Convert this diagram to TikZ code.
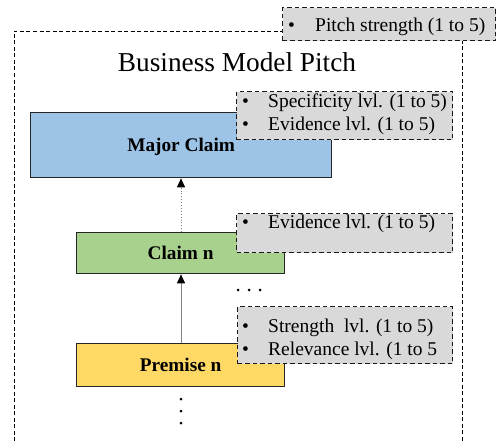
\documentclass[tikz,border=0pt]{standalone}
\usepackage{fontspec}
\setmainfont{Liberation Serif}
\usetikzlibrary{positioning,arrows.meta}

\definecolor{mcblue}{HTML}{9DC3E6}
\definecolor{clgreen}{HTML}{A9D18E}
\definecolor{pryellow}{HTML}{FFD966}
\definecolor{attrgray}{HTML}{D9D9D9}

\begin{document}
\begin{tikzpicture}
        [x=1pt,y=-1pt,
         argbox/.style={draw=black!85, line width=1.3pt, inner sep=0pt,
           anchor=north west, font=\fontsize{19.3}{21}\selectfont\bfseries},
         attrbox/.style={draw=black!90, fill=attrgray, line width=1.4pt,
           dash pattern=on 4.5pt off 3pt, inner sep=0pt, anchor=north west},
         item/.style={anchor=base west, inner sep=0pt,
           font=\fontsize{19.5}{21}\selectfont},
         link/.style={draw=black!50, line width=0.9pt,
           -{Triangle[length=9pt,width=8pt,fill=black,color=black]}},
         frame/.style={line width=0.8pt, dash pattern=on 4pt off 2.5pt},
         dots/.style={circle, fill=black, inner sep=0pt, minimum size=3pt}]
        \useasboundingbox (0,0) rectangle (497,441);
        %\draw[help lines,step=50] (0,0) grid (497,441);

        % outer frame of the pitch
        \coordinate (fbl) at (14,441);
        \coordinate (ftl) at (14,31);
        \coordinate (ftr) at (283,31);
        \coordinate (frt) at (462,40);
        \coordinate (frb) at (462,441);
        \draw[frame] (fbl) -- (ftl) -- (ftr);
        \draw[frame] (frt) -- (frb);
        \node[font=\fontsize{27.3}{30}\selectfont, anchor=base] (title) at (237,72)
          {Business Model Pitch};

        % argument components
        \node[argbox, fill=mcblue, minimum width=301pt, minimum height=65pt,
          text depth=-5pt] (major) at (30,112) {Major Claim};
        \node[argbox, fill=clgreen, minimum width=208pt, minimum height=41pt,
          text depth=-3pt] (claim) at (76,232) {Claim n};
        \node[argbox, fill=pryellow, minimum width=208pt, minimum height=43pt,
          text depth=-3pt] (premise) at (76,343) {Premise n};

        \draw[link, dotted] (claim.north -| 181,0) -- (major.south -| 181,0);
        \draw[link] (premise.north -| 181,0) -- (claim.south -| 181,0);

        % attribute boxes
        \node[attrbox, minimum width=213pt, minimum height=33pt] (pitchattr) at (282,7) {};
        \node[item] (pb) at (288,32) {\textbullet};
        \node[item] (pt) at (315,32) {Pitch strength (1 to 5)};

        \node[attrbox, minimum width=216pt, minimum height=48pt] (majorattr) at (236,91) {};
        \node[item] (mb1) at (242,107) {\textbullet};
        \node[item] (mt1) at (268,107) {Specificity lvl. (1 to 5)};
        \node[item] (mb2) at (242,130) {\textbullet};
        \node[item] (mt2) at (268,130) {Evidence lvl. (1 to 5)};

        \node[attrbox, minimum width=216pt, minimum height=39pt] (claimattr) at (236,213) {};
        \node[item] (cb1) at (242,228) {\textbullet};
        \node[item] (ct1) at (268,228) {Evidence lvl. (1 to 5)};

        \node[attrbox, minimum width=215pt, minimum height=57pt] (premattr) at (237,306) {};
        \node[item] (pb1) at (242,332) {\textbullet};
        \node[item] (pt1) at (268,332) {Strength \ lvl. (1 to 5)};
        \node[item] (pb2) at (242,355) {\textbullet};
        \node[item] (pt2) at (268,355) {Relevance lvl. (1 to 5};

        % ellipses
        \node[dots] (h1) at (238,290) {};
        \node[dots] (h2) at (249,290) {};
        \node[dots] (h3) at (260,290) {};
        \node[dots] (v1) at (181,399) {};
        \node[dots] (v2) at (181,411) {};
        \node[dots] (v3) at (181,423) {};
\end{tikzpicture}
\end{document}
